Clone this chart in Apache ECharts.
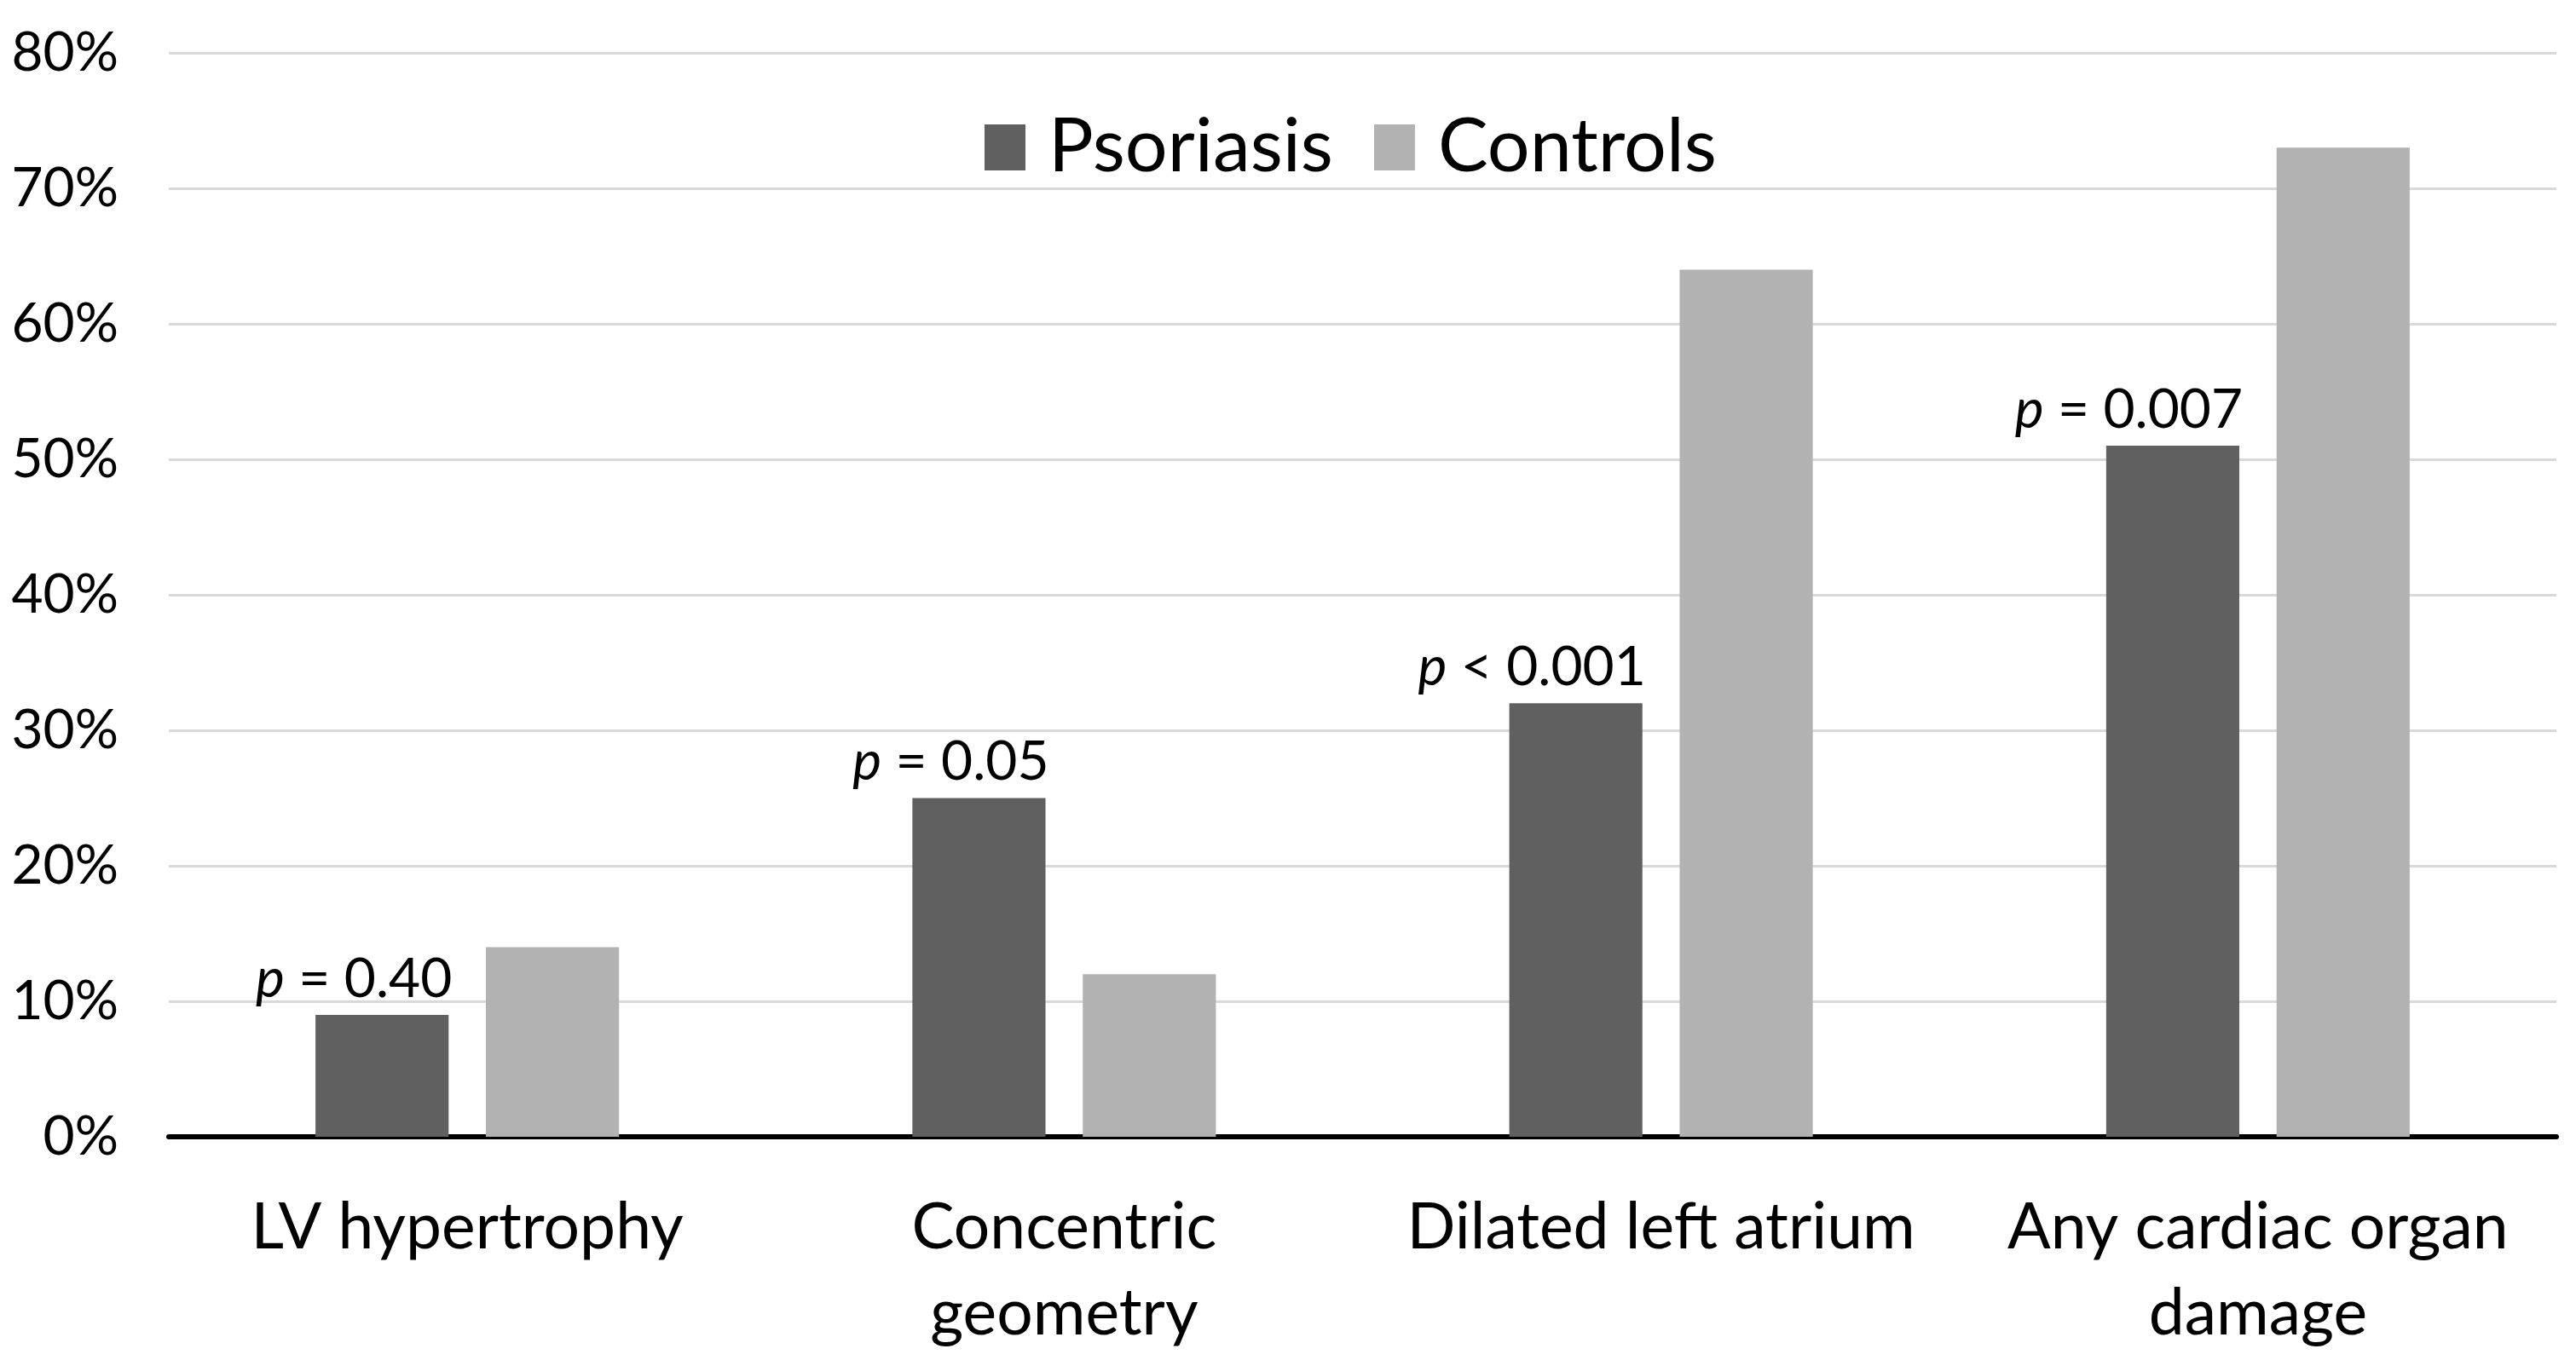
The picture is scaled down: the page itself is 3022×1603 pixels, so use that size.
<!DOCTYPE html>
<html>
<head>
<meta charset="utf-8">
<script src="https://cdn.jsdelivr.net/npm/echarts@6/dist/echarts.min.js"></script>
<style>
html,body{margin:0;padding:0;background:#fff;}
#chart{width:3022px;height:1603px;}
</style>
</head>
<body>
<div id="chart"></div>
<script>
const categories = ['LV hypertrophy', 'Concentric\ngeometry', 'Dilated left atrium', 'Any cardiac organ\ndamage'];
const psoriasis = [9, 25, 32, 51];
const controls = [14, 12, 64, 73];
const pValues = ['= 0.40', '= 0.05', '< 0.001', '= 0.007'];
const yTicks = [0, 10, 20, 30, 40, 50, 60, 70, 80];

const FONT = 'Lato';
const chart = echarts.init(document.getElementById('chart'));
chart.setOption({
  backgroundColor: '#ffffff',
  animation: false,
  textStyle: { fontFamily: FONT, color: '#000' },
  legend: {
    left: 1150,
    top: 124,
    itemWidth: 48,
    itemHeight: 54,
    itemGap: 48,
    icon: 'rect',
    textStyle: { fontFamily: FONT, fontSize: 88, color: '#000', padding: [0, 0, 0, 22] },
    data: ['Psoriasis', 'Controls']
  },
  grid: { left: 198, right: 23, top: 62, bottom: 269, containLabel: false },
  xAxis: {
    type: 'category',
    data: categories,
    axisTick: { show: false },
    axisLine: { lineStyle: { color: '#000', width: 6 } },
    axisLabel: {
      fontFamily: FONT, fontSize: 75, color: '#000', margin: 56,
      lineHeight: 101, interval: 0
    }
  },
  yAxis: {
    type: 'value',
    min: yTicks[0],
    max: yTicks[yTicks.length - 1],
    interval: 10,
    axisLine: { show: false },
    axisTick: { show: false },
    splitLine: { lineStyle: { color: '#d9d9d9', width: 3 } },
    axisLabel: { fontFamily: FONT, fontSize: 64, color: '#000', margin: 59, formatter: '{value}%' }
  },
  series: [
    {
      name: 'Psoriasis',
      type: 'bar',
      data: psoriasis,
      barWidth: '22.3%',
      barGap: '28%',
      itemStyle: { color: '#606060' },
      label: {
        show: true,
        position: ['100%', 0],
        align: 'right',
        verticalAlign: 'bottom',
        offset: [4, -10],
        fontFamily: FONT,
        fontSize: 64,
        color: '#000',
        formatter: function (p) { return '{i|p} ' + pValues[p.dataIndex]; },
        rich: {
          i: { fontFamily: FONT, fontSize: 64, fontStyle: 'italic', color: '#000' }
        }
      }
    },
    {
      name: 'Controls',
      type: 'bar',
      data: controls,
      barWidth: '22.3%',
      itemStyle: { color: '#b2b2b2' }
    }
  ]
});
</script>
</body>
</html>
